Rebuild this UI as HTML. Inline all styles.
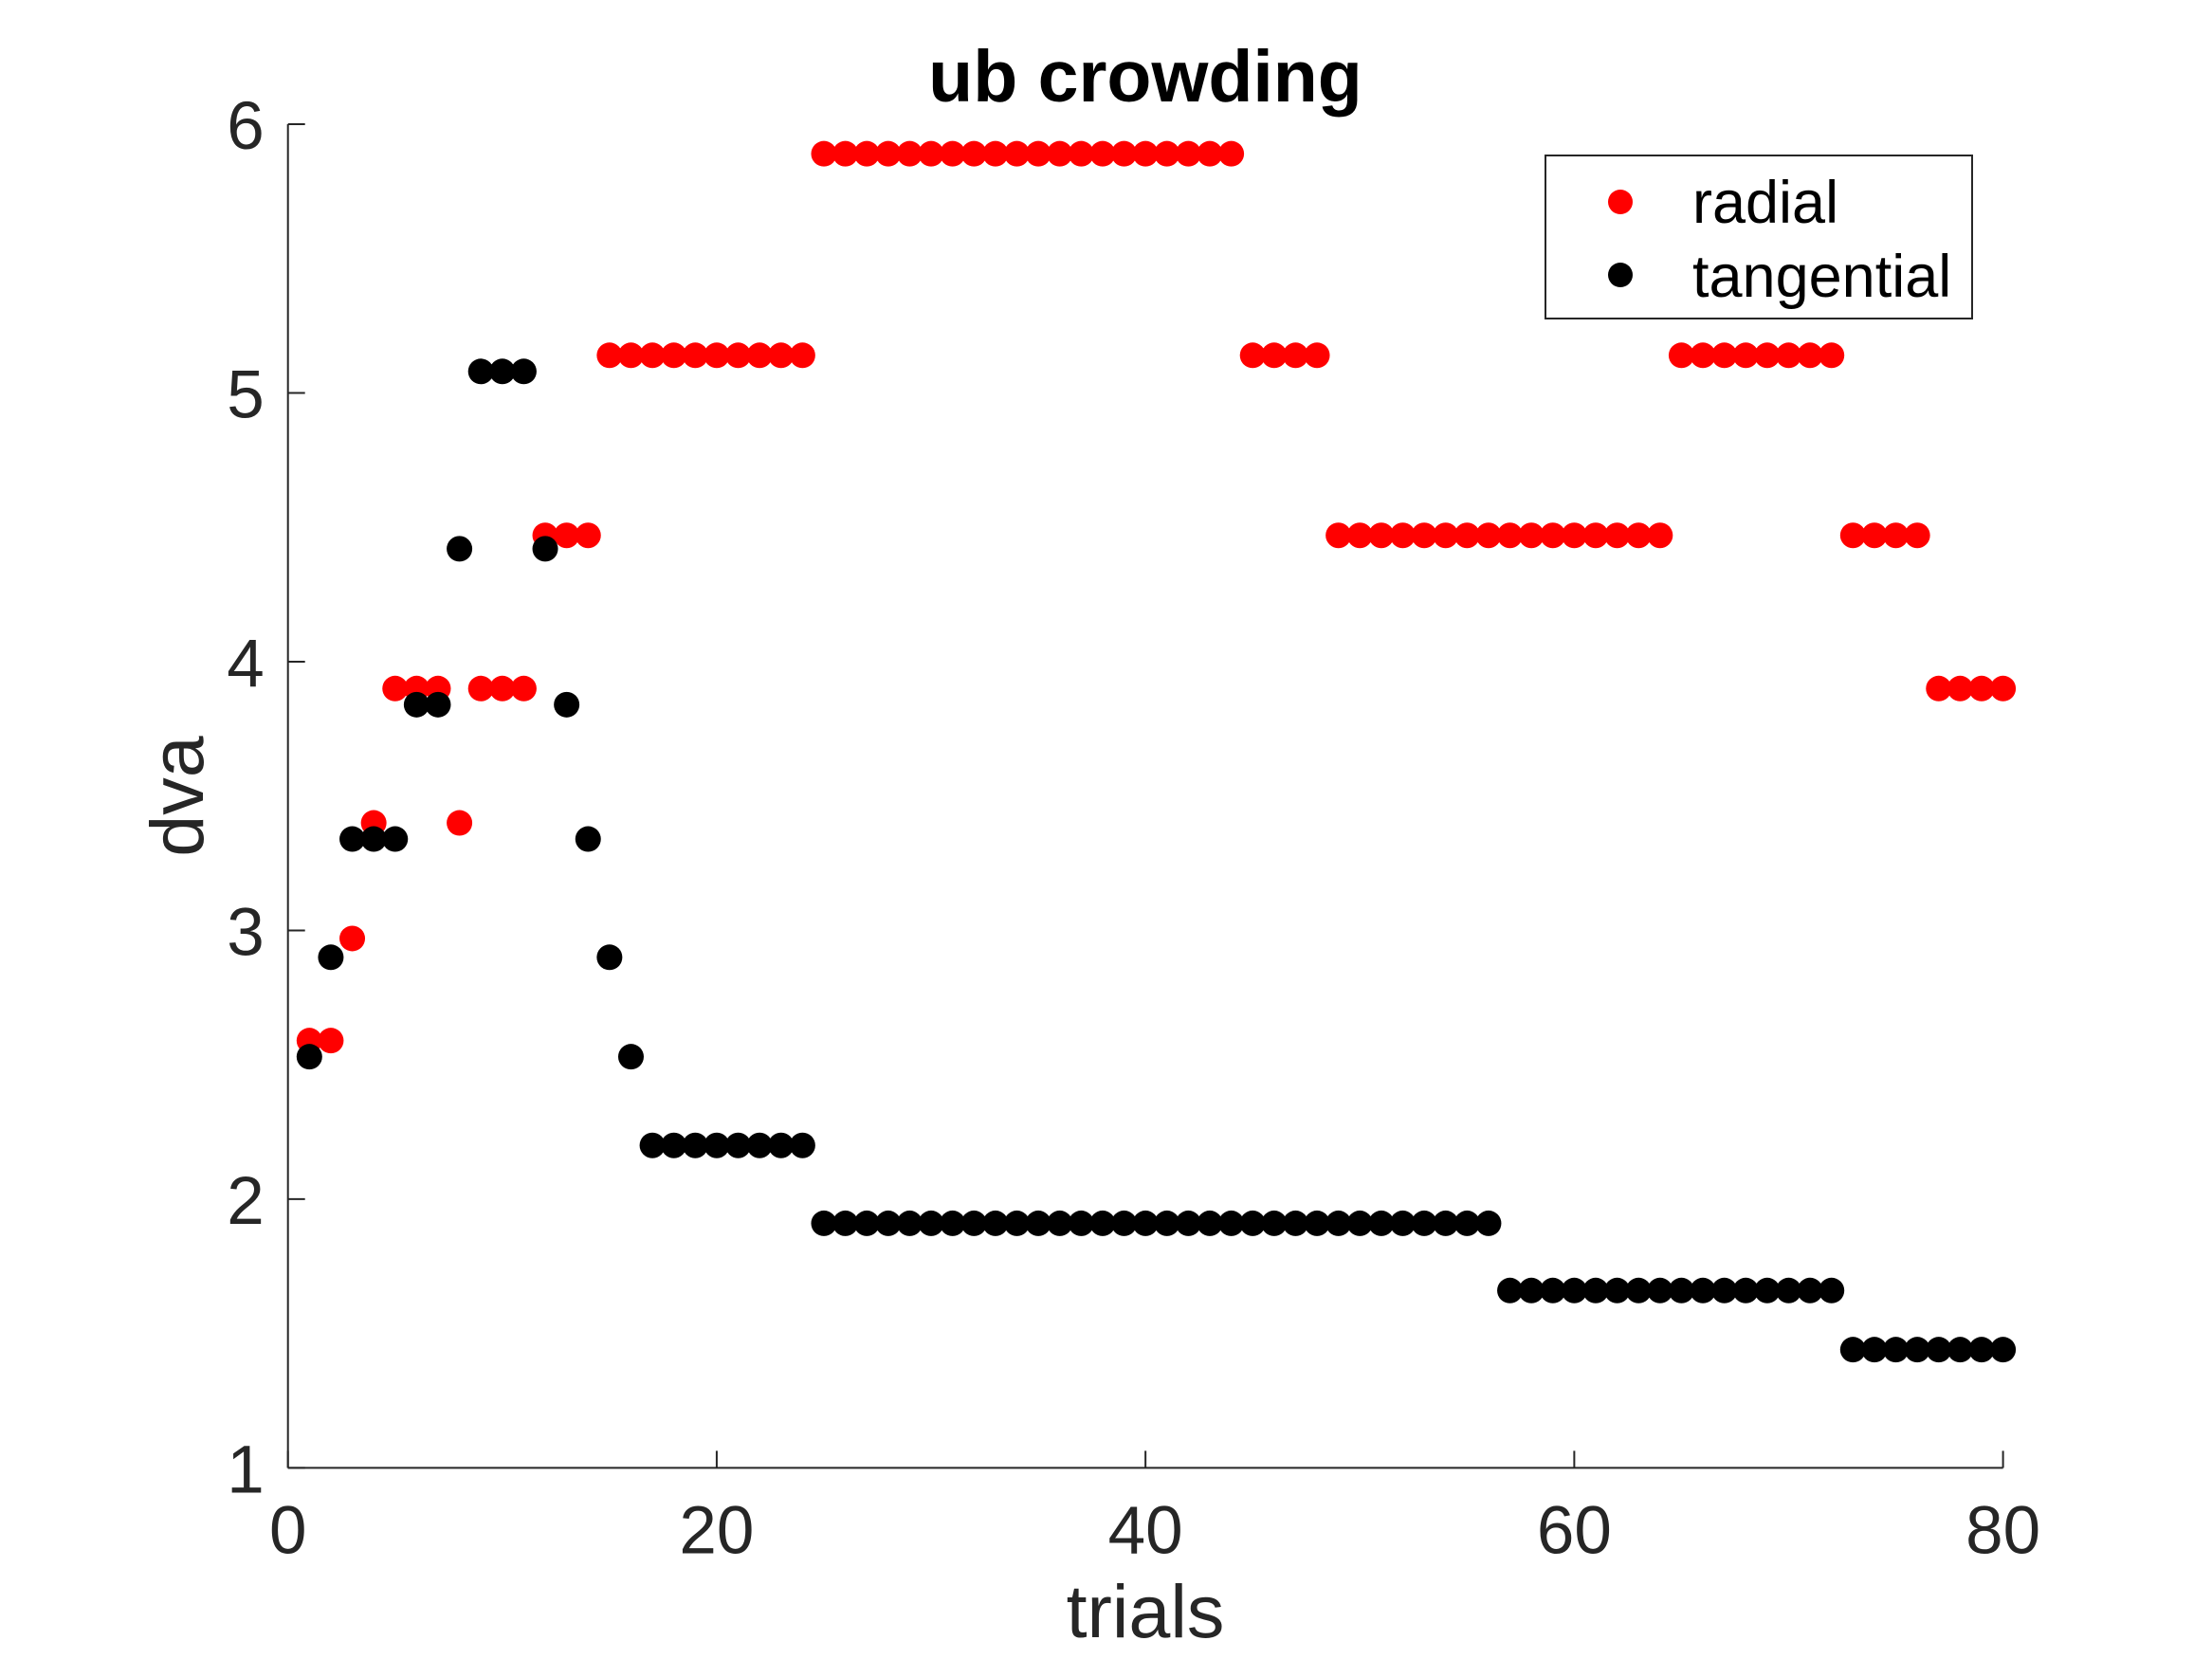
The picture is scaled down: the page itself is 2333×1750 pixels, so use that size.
<!DOCTYPE html>
<html><head><meta charset="utf-8"><style>
html,body{margin:0;padding:0;background:#fff;}
svg{display:block;font-family:"Liberation Sans",Arial,sans-serif;}
</style></head><body>
<svg id="chart" width="2333" height="1750" viewBox="0 0 2333 1750">
<rect width="2333" height="1750" fill="#fff"/>
<g id="axes"></g>
<g id="marks"></g>
<text x="1208" y="107" text-anchor="middle" font-size="77" font-weight="bold" fill="#000">ub crowding</text>
<text x="1208" y="1727" text-anchor="middle" font-size="79" fill="#262626">trials</text>
<text transform="translate(214,840) rotate(-90)" text-anchor="middle" font-size="79" fill="#262626">dva</text>
<g>
<rect x="1630" y="164" width="450" height="172" fill="#fff" stroke="#262626" stroke-width="2"/>
<circle cx="1709" cy="213" r="13" fill="#ff0000"/>
<text x="1785" y="235" font-size="63" fill="#000">radial</text>
<circle cx="1709" cy="290" r="13" fill="#000"/>
<text x="1785" y="313" font-size="63" fill="#000">tangential</text>
</g>
</svg>
<script>
const xTicks=[0,20,40,60,80];
const yTicks=[1,2,3,4,5,6];
const radial=[2.59,2.59,2.97,3.40,3.90,3.90,3.90,3.40,3.90,3.90,3.90,4.47,4.47,4.47,
5.14,5.14,5.14,5.14,5.14,5.14,5.14,5.14,5.14,5.14,
5.89,5.89,5.89,5.89,5.89,5.89,5.89,5.89,5.89,5.89,5.89,5.89,5.89,5.89,5.89,5.89,5.89,5.89,5.89,5.89,
5.14,5.14,5.14,5.14,
4.47,4.47,4.47,4.47,4.47,4.47,4.47,4.47,4.47,4.47,4.47,4.47,4.47,4.47,4.47,4.47,
5.14,5.14,5.14,5.14,5.14,5.14,5.14,5.14,
4.47,4.47,4.47,4.47,3.90,3.90,3.90,3.90];
const tangential=[2.53,2.90,3.34,3.34,3.34,3.84,3.84,4.42,5.08,5.08,5.08,4.42,3.84,3.34,2.90,2.53,
2.20,2.20,2.20,2.20,2.20,2.20,2.20,2.20,
1.91,1.91,1.91,1.91,1.91,1.91,1.91,1.91,1.91,1.91,1.91,1.91,1.91,1.91,1.91,1.91,
1.91,1.91,1.91,1.91,1.91,1.91,1.91,1.91,1.91,1.91,1.91,1.91,1.91,1.91,1.91,1.91,
1.66,1.66,1.66,1.66,1.66,1.66,1.66,1.66,1.66,1.66,1.66,1.66,1.66,1.66,1.66,1.66,
1.44,1.44,1.44,1.44,1.44,1.44,1.44,1.44];

const NS='http://www.w3.org/2000/svg';
const L=303.7,R=2112.6,T=131,B=1548.4;
function sx(v){return L+(v-0)/(80-0)*(R-L);}
function sy(v){return B-(v-1)/(6-1)*(B-T);}
function mk(tag,attrs,parent){const e=document.createElementNS(NS,tag);for(const k in attrs)e.setAttribute(k,attrs[k]);parent.appendChild(e);return e;}
const axes=document.getElementById('axes');
const marks=document.getElementById('marks');
let a=mk('line',{x1:L,y1:B,x2:R,y2:B,stroke:'#262626','stroke-width':2},axes);


a=mk('line',{x1:L,y1:B,x2:L,y2:T,stroke:'#262626','stroke-width':2},axes);


xTicks.forEach(v=>{
 const t=mk('line',{x1:sx(v),y1:B,x2:sx(v),y2:B-18,stroke:'#262626','stroke-width':2},axes);
 
 
 const tx=mk('text',{x:sx(v),y:B+90,'text-anchor':'middle','font-size':71,fill:'#262626'},axes);
 tx.textContent=v;
 
 
});
yTicks.forEach(v=>{
 const t=mk('line',{x1:L,y1:sy(v),x2:L+18,y2:sy(v),stroke:'#262626','stroke-width':2},axes);
 
 
 const tx=mk('text',{x:L-25,y:sy(v)+26,'text-anchor':'end','font-size':71,fill:'#262626'},axes);
 tx.textContent=v;
 
 
});
radial.forEach((v,i)=>{
 const c=mk('circle',{cx:sx(i+1),cy:sy(v),r:13.5,fill:'#ff0000'},marks);
 
 
});
tangential.forEach((v,i)=>{
 const c=mk('circle',{cx:sx(i+1),cy:sy(v),r:13.5,fill:'#000'},marks);
 
 
});
</script>
</body></html>
